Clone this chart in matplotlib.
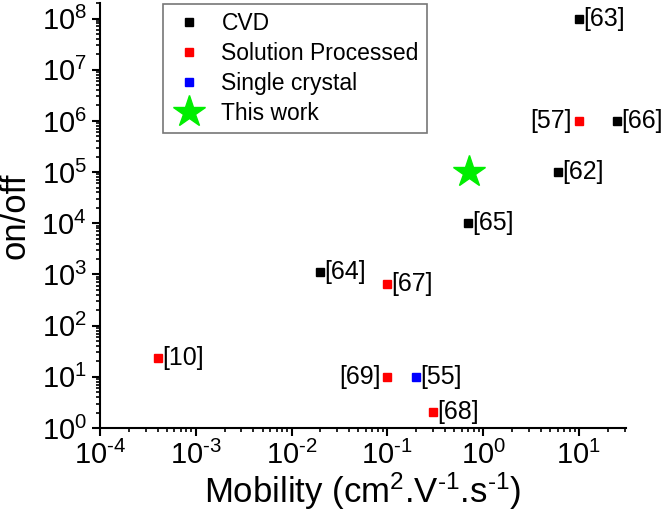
import matplotlib
matplotlib.use('Agg')
import matplotlib.pyplot as plt
from matplotlib.ticker import LogLocator, NullFormatter, FuncFormatter
import numpy as np

plt.rcParams['font.family'] = ['Liberation Sans', 'DejaVu Sans']
plt.rcParams['mathtext.fontset'] = 'custom'
plt.rcParams['mathtext.rm'] = 'Liberation Sans'
plt.rcParams['mathtext.it'] = 'Liberation Sans:italic'
plt.rcParams['axes.unicode_minus'] = False

# data (mobility in cm2/Vs, on/off ratio)
cvd_mob = [10, 25, 6, 0.7, 0.02]
cvd_onoff = [1e8, 1e6, 1e5, 1e4, 1.1e3]
cvd_refs = ['[63]', '[66]', '[62]', '[65]', '[64]']

sol_mob = [10, 0.1, 4e-4, 0.1, 0.3]
sol_onoff = [1e6, 650, 23, 10, 2.1]
sol_refs = ['[57]', '[67]', '[10]', '[69]', '[68]']

sc_mob = [0.2]
sc_onoff = [10]
sc_refs = ['[55]']

this_mob = [0.72]
this_onoff = [1e5]

# labels that sit on the left of their marker
left_refs = ['[57]', '[69]']


def pow10(v, pos):
    e = int(round(np.log10(v)))
    if e < 0:
        return r'$\mathdefault{10^{\text{-%d}}}$' % (-e)
    return r'$\mathdefault{10^{%d}}$' % e


fig = plt.figure(figsize=(6.66, 5.17), dpi=100)
ax = fig.add_axes([0.150, 0.172, 0.790, 0.822])

ax.plot(cvd_mob, cvd_onoff, 's', color='black', ms=6, ls='none', label='CVD')
ax.plot(sol_mob, sol_onoff, 's', color='red', ms=6, ls='none', label='Solution Processed')
ax.plot(sc_mob, sc_onoff, 's', color='blue', ms=6, ls='none', label='Single crystal')
ax.plot(this_mob, this_onoff, '*', color='#00ee00', ms=24, ls='none', label='This work')

for xs, ys, refs in [(cvd_mob, cvd_onoff, cvd_refs),
                     (sol_mob, sol_onoff, sol_refs),
                     (sc_mob, sc_onoff, sc_refs)]:
    for x, y, r in zip(xs, ys, refs):
        if r in left_refs:
            ax.annotate(r, (x, y), xytext=(-5, 0), textcoords='offset points',
                        ha='right', va='center', fontsize=18)
        else:
            ax.annotate(r, (x, y), xytext=(3, 0), textcoords='offset points',
                        ha='left', va='center', fontsize=18)

ax.set_xscale('log')
ax.set_yscale('log')
ax.set_xlim(1e-4, 31)
ax.set_ylim(1, 2e8)

ax.xaxis.set_major_locator(LogLocator(base=10, numticks=20))
ax.yaxis.set_major_locator(LogLocator(base=10, numticks=20))
ax.xaxis.set_minor_locator(LogLocator(base=10, subs=range(2, 10), numticks=20))
ax.yaxis.set_minor_locator(LogLocator(base=10, subs=range(2, 10), numticks=20))
ax.xaxis.set_major_formatter(FuncFormatter(pow10))
ax.yaxis.set_major_formatter(FuncFormatter(pow10))
ax.xaxis.set_minor_formatter(NullFormatter())
ax.yaxis.set_minor_formatter(NullFormatter())

ax.spines['top'].set_visible(False)
ax.spines['right'].set_visible(False)
ax.spines['left'].set_linewidth(1.5)
ax.spines['bottom'].set_linewidth(1.5)
ax.tick_params(which='major', direction='out', length=6, width=1.5, labelsize=21)
ax.tick_params(which='minor', direction='out', length=3, width=1.2)

ax.set_xlabel(r'Mobility (cm$^{2}$.V$^{\text{-1}}$.s$^{\text{-1}}$)', fontsize=25, labelpad=0)
ax.set_ylabel('on/off', fontsize=25, labelpad=7)

leg = ax.legend(loc='upper left', bbox_to_anchor=(0.12, 0.997), fontsize=16.5,
                frameon=True, fancybox=False, edgecolor='#555555',
                handletextpad=0.6, labelspacing=0.3, borderpad=0.35,
                handlelength=1.6, borderaxespad=0)
leg.get_frame().set_linewidth(1.2)
for h in leg.legend_handles[:3]:
    h.set_markersize(6)

fig.savefig('out.png', dpi=100)
